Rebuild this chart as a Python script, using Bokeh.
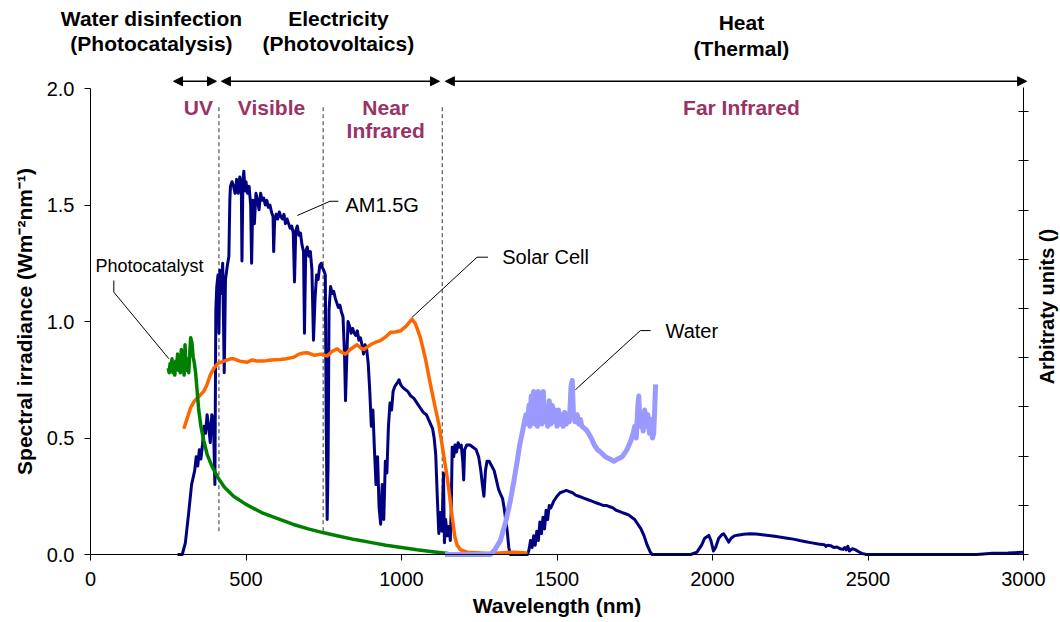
import math
from bokeh.plotting import figure
from bokeh.models import (Range1d, LinearAxis, FixedTicker, NumeralTickFormatter,
                          CustomJSTickFormatter, Label, Arrow, NormalHead)
from bokeh.embed import file_html
from bokeh.resources import INLINE

# ---------------- data ----------------
am15_wl = [280, 295, 305, 315, 325, 335, 340, 345, 350, 355, 360, 365, 370, 375, 380, 385, 390, 395,
           400, 403, 406, 410, 413, 416, 420, 425, 430, 434, 440, 445, 448, 450, 455, 460, 465, 470, 475,
           480, 485, 487, 490, 493, 497, 500, 505, 510, 515, 518, 522, 527, 532, 537, 542, 547, 552,
           557, 562, 567, 572, 577, 582, 587, 589, 592, 597, 602, 607, 612, 617, 622, 627, 632, 637,
           642, 647, 652, 656, 660, 665, 670, 675, 680, 685, 688, 692, 697, 702, 707, 712, 717, 722,
           727, 732, 737, 742, 746, 750, 755, 758, 761, 764, 767, 772, 777, 782, 787, 792, 797, 802,
           807, 812, 817, 820, 823, 828, 833, 838, 843, 848, 853, 858, 863, 868, 873, 878, 883, 888,
           893, 898, 903, 908, 913, 918, 923, 928, 933, 938, 943, 948, 953, 958, 963, 968, 973, 978,
           983, 988, 992, 997, 1002, 1010, 1020, 1030, 1040, 1050, 1060, 1070, 1080, 1090, 1100, 1105,
           1110, 1115, 1120, 1125, 1130, 1135, 1138, 1142, 1147, 1152, 1157, 1160, 1163, 1168, 1172,
           1177, 1182, 1187, 1192, 1197, 1200, 1203, 1210, 1220, 1230, 1240, 1248, 1255, 1260, 1265,
           1270, 1275, 1282, 1290, 1298, 1305, 1312, 1318, 1325, 1330, 1335, 1340, 1345, 1350, 1405,
           1410, 1415, 1420, 1425, 1430, 1435, 1440, 1445, 1450, 1455, 1460, 1465, 1470, 1475, 1480,
           1490, 1500, 1510, 1520, 1530, 1540, 1550, 1560, 1570, 1580, 1590, 1600, 1610, 1620, 1630,
           1640, 1650, 1660, 1670, 1680, 1690, 1700, 1710, 1720, 1730, 1740, 1750, 1760, 1770, 1780,
           1790, 1800, 1806, 1930, 1950, 1965, 1975, 1988, 1995, 2003, 2010, 2020, 2030, 2036, 2045,
           2052, 2060, 2070, 2080, 2100, 2120, 2140, 2160, 2180, 2200, 2220, 2240, 2260, 2280, 2300,
           2320, 2340, 2360, 2365, 2370, 2380, 2390, 2400, 2410, 2420, 2425, 2430, 2435, 2440, 2450,
           2460, 2470, 2480, 2495, 2850, 2900, 2950, 2970, 3000]
am15_val = [0.0, 0.0, 0.05, 0.17, 0.30, 0.36, 0.42, 0.38, 0.45, 0.41, 0.47, 0.55, 0.52, 0.60, 0.55, 0.48, 0.60, 0.58,
            0.30, 1.05, 1.15, 1.20, 0.95, 1.22, 1.12, 1.25, 0.78, 1.18, 1.24, 1.28, 1.52, 1.58, 1.60, 1.58, 1.55, 1.61, 1.55,
            1.62, 1.58, 1.26, 1.60, 1.645, 1.56, 1.60, 1.55, 1.58, 1.50, 1.25, 1.52, 1.42, 1.55, 1.52, 1.48, 1.55, 1.52,
            1.53, 1.50, 1.52, 1.49, 1.50, 1.47, 1.45, 1.30, 1.43, 1.46, 1.44, 1.47, 1.45, 1.44, 1.46, 1.42, 1.44, 1.42,
            1.40, 1.41, 1.38, 1.17, 1.39, 1.41, 1.37, 1.38, 1.33, 1.30, 0.95, 1.30, 1.32, 1.28, 1.30, 1.22, 0.92, 1.10,
            1.20, 1.18, 1.24, 1.25, 1.23, 1.22, 1.20, 0.55, 0.15, 0.40, 1.05, 1.15, 1.12, 1.13, 1.10, 1.08, 1.06, 1.07,
            1.04, 1.02, 0.85, 0.66, 0.80, 1.00, 0.98, 0.95, 0.97, 0.95, 0.94, 0.96, 0.92, 0.93, 0.90, 0.86, 0.90, 0.88,
            0.82, 0.70, 0.55, 0.62, 0.45, 0.30, 0.42, 0.20, 0.13, 0.30, 0.15, 0.40, 0.35, 0.55, 0.65, 0.62, 0.70, 0.72,
            0.73, 0.74, 0.75, 0.73, 0.72, 0.71, 0.70, 0.68, 0.67, 0.65, 0.63, 0.61, 0.60, 0.57, 0.54, 0.50,
            0.43, 0.25, 0.09, 0.18, 0.10, 0.35, 0.05, 0.15, 0.08, 0.12, 0.06, 0.20, 0.46, 0.42, 0.47,
            0.44, 0.48, 0.46, 0.47, 0.40, 0.32, 0.45, 0.47, 0.47, 0.46, 0.45, 0.42, 0.36, 0.30, 0.25,
            0.36, 0.40, 0.40, 0.38, 0.36, 0.32, 0.28, 0.26, 0.24, 0.20, 0.15, 0.10, 0.03, 0.0, 0.0,
            0.02, 0.06, 0.03, 0.08, 0.04, 0.10, 0.06, 0.14, 0.09, 0.16, 0.11, 0.19, 0.15, 0.21, 0.20,
            0.23, 0.25, 0.265, 0.27, 0.275, 0.27, 0.265, 0.255, 0.25, 0.245, 0.24, 0.235, 0.23, 0.225, 0.22,
            0.215, 0.21, 0.21, 0.205, 0.20, 0.19, 0.185, 0.18, 0.175, 0.17, 0.16, 0.15, 0.13, 0.11, 0.08,
            0.04, 0.01, 0.0, 0.0, 0.01, 0.04, 0.07, 0.082, 0.06, 0.015, 0.03, 0.07, 0.085, 0.089, 0.07,
            0.053, 0.07, 0.08, 0.083, 0.087, 0.089, 0.088, 0.085, 0.082, 0.078, 0.074, 0.07, 0.066, 0.06, 0.055,
            0.05, 0.045, 0.042, 0.035, 0.04, 0.038, 0.03, 0.032, 0.025, 0.022, 0.03, 0.02, 0.035, 0.015, 0.025,
            0.02, 0.012, 0.005, 0.0, 0.0, 0.005, 0.006, 0.008, 0.01]

solar_wl = [300, 310, 322, 335, 350, 364, 375, 385, 397, 410, 429, 450, 461, 480, 504, 520, 535, 557, 580,
            611, 630, 654, 670, 685, 697, 720, 740, 761, 775, 793, 805, 820, 835, 857, 870, 879, 900, 915,
            932, 950, 965, 980, 997, 1015, 1034, 1045, 1061, 1077, 1093, 1107, 1120, 1133, 1147, 1155, 1163,
            1171, 1179, 1190, 1211, 1240, 1270, 1300, 1330, 1360, 1390, 1405]
solar_val = [0.54, 0.58, 0.63, 0.66, 0.68, 0.70, 0.73, 0.77, 0.80, 0.82, 0.83, 0.84, 0.84, 0.83, 0.825, 0.835, 0.83,
             0.83, 0.835, 0.837, 0.84, 0.847, 0.86, 0.865, 0.866, 0.855, 0.86, 0.852, 0.87, 0.883, 0.87, 0.86, 0.88,
             0.90, 0.885, 0.88, 0.90, 0.91, 0.918, 0.935, 0.954, 0.955, 0.96, 0.98, 1.01, 0.99, 0.93, 0.84, 0.73,
             0.64, 0.56, 0.45, 0.33, 0.25, 0.16, 0.08, 0.04, 0.02, 0.01, 0.008, 0.005, 0.005, 0.008, 0.01, 0.008, 0.005]

photo_wl = [250, 253, 256, 259, 262, 265, 268, 271, 274, 277, 280, 283, 286, 289, 292, 295, 298, 301, 304, 307,
            310, 313, 316, 319, 322, 326, 330, 334, 338, 343, 348, 355, 364, 375, 390, 410, 430, 460, 500, 550,
            600, 650, 700, 750, 800, 850, 900, 950, 1000, 1050, 1100, 1150, 1160]
photo_val = [0.80, 0.78, 0.82, 0.79, 0.84, 0.78, 0.81, 0.77, 0.83, 0.80, 0.86, 0.79, 0.82, 0.78, 0.88, 0.80, 0.84,
             0.77, 0.90, 0.79, 0.84, 0.80, 0.78, 0.86, 0.93, 0.91, 0.85, 0.82, 0.78, 0.70, 0.62, 0.55, 0.49, 0.43,
             0.38, 0.33, 0.29, 0.25, 0.215, 0.18, 0.155, 0.13, 0.11, 0.093, 0.078, 0.064, 0.052, 0.04, 0.03, 0.02,
             0.012, 0.004, 0.0]

water_wl = [1140, 1200, 1250, 1286, 1300, 1318, 1335, 1350, 1362, 1372, 1380, 1388, 1395, 1400, 1405, 1410, 1413,
            1417, 1420, 1425, 1428, 1433, 1437, 1440, 1444, 1448, 1452, 1456, 1460, 1465, 1470, 1475, 1480, 1485,
            1490, 1495, 1500, 1505, 1510, 1515, 1520, 1525, 1530, 1535, 1540, 1545, 1549, 1553, 1558, 1565, 1570,
            1575, 1580, 1590, 1597, 1610, 1620, 1630, 1640, 1655, 1670, 1683, 1695, 1710, 1725, 1738, 1745, 1750,
            1755, 1760, 1763, 1767, 1772, 1777, 1782, 1787, 1792, 1797, 1802, 1807, 1811, 1814, 1817]
water_val = [0.0, 0.0, 0.0, 0.0, 0.02, 0.06, 0.14, 0.23, 0.32, 0.40, 0.47, 0.52, 0.57, 0.60, 0.56, 0.64, 0.55,
             0.68, 0.57, 0.70, 0.56, 0.62, 0.55, 0.70, 0.57, 0.66, 0.56, 0.70, 0.57, 0.62, 0.55, 0.66, 0.56, 0.64,
             0.57, 0.62, 0.55, 0.62, 0.56, 0.60, 0.55, 0.61, 0.56, 0.60, 0.57, 0.72, 0.747, 0.60, 0.57, 0.60, 0.56,
             0.58, 0.55, 0.54, 0.53, 0.50, 0.47, 0.45, 0.44, 0.42, 0.41, 0.40, 0.41, 0.42, 0.45, 0.49, 0.52, 0.55,
             0.50, 0.64, 0.68, 0.55, 0.60, 0.53, 0.62, 0.55, 0.60, 0.52, 0.58, 0.50, 0.52, 0.62, 0.73]

region_bounds = [413, 748, 1131]
x_ticks = [0, 500, 1000, 1500, 2000, 2500, 3000]
y_ticks = [0.0, 0.5, 1.0, 1.5, 2.0]
right_ticks = [0.0, 0.1, 0.2, 0.3, 0.4, 0.5, 0.6, 0.7, 0.8, 0.9]

# ---------------- figure ----------------
FONT = "Liberation Sans"
PURPLE = "#993366"
W, H = 1060, 622
PX_X = 933 / 3000          # pixels per nm
PX_Y = 233.0               # pixels per irradiance unit
PX_R = 492.0               # pixels per right-axis unit
X0, Y0 = 90, 554           # pixel position of the origin

p = figure(frame_width=W, frame_height=H,
           x_range=Range1d(-X0 / PX_X, (W - X0) / PX_X),
           y_range=Range1d(-(H - Y0) / PX_Y, Y0 / PX_Y),
           output_backend="svg", toolbar_location=None,
           min_border=0, min_border_left=0, min_border_right=0,
           min_border_top=0, min_border_bottom=0)
p.outline_line_color = None
p.xgrid.visible = False
p.ygrid.visible = False
p.background_fill_color = "white"
p.border_fill_color = "white"

p.extra_y_ranges = {"arb": Range1d(-(H - Y0) / PX_R, Y0 / PX_R)}

# left axis
ya = p.yaxis[0]
ya.fixed_location = 0
ya.bounds = (0, 2)
ya.ticker = FixedTicker(ticks=y_ticks)
ya.formatter = NumeralTickFormatter(format="0.0")
ya.major_tick_in = 0
ya.major_tick_out = 6
ya.minor_tick_line_color = None
ya.major_label_standoff = 10
ya.major_label_text_font = FONT
ya.major_label_text_font_size = "20px"
ya.major_label_text_color = "black"
ya.axis_label = "Spectral irradiance (Wm⁻²nm⁻¹)"
ya.axis_label_text_font = FONT
ya.axis_label_text_font_style = "bold"
ya.axis_label_text_font_size = "21px"
ya.axis_label_text_color = "black"
ya.axis_label_standoff = 8
ya.axis_line_color = "black"
ya.major_tick_line_color = "black"

# bottom axis
xa = p.xaxis[0]
xa.fixed_location = 0
xa.bounds = (0, 3000)
xa.ticker = FixedTicker(ticks=x_ticks)
xa.formatter = NumeralTickFormatter(format="0")
xa.major_tick_in = 0
xa.major_tick_out = 6
xa.minor_tick_line_color = None
xa.major_label_standoff = 11
xa.major_label_text_font = FONT
xa.major_label_text_font_size = "20px"
xa.major_label_text_color = "black"
xa.axis_label = "Wavelength (nm)"
xa.axis_label_text_font = FONT
xa.axis_label_text_font_style = "bold"
xa.axis_label_text_font_size = "21px"
xa.axis_label_text_color = "black"
xa.axis_label_standoff = 5
xa.axis_line_color = "black"
xa.major_tick_line_color = "black"

# right axis (ticks only, no numbers)
ra = LinearAxis(y_range_name="arb", fixed_location=3000, bounds=(0, 0.95),
                ticker=FixedTicker(ticks=right_ticks),
                formatter=CustomJSTickFormatter(code="return ''"),
                major_tick_in=5, major_tick_out=5, minor_tick_line_color=None,
                major_label_standoff=0,
                axis_line_color="black", major_tick_line_color="black")
p.add_layout(ra, "right")

# ---------------- region separators ----------------
p.segment(x0=region_bounds, y0=[0.10] * 3, x1=region_bounds, y1=[1.93] * 3,
          line_color="#333333", line_width=1, line_dash="4 3")

# ---------------- series ----------------
p.line(am15_wl, am15_val, line_color="#000080", line_width=3, line_join="round")
p.line(solar_wl, solar_val, line_color="#FF6600", line_width=3.5, line_join="round")
p.line(photo_wl, photo_val, line_color="#008000", line_width=3.5, line_join="round")
p.line(water_wl, water_val, line_color="#9999FF", line_width=5, line_join="round")

# ---------------- leader lines ----------------
for xs, ys in [([665, 770, 797], [1.455, 1.516, 1.516]),
               ([1034, 1243, 1278], [1.018, 1.276, 1.276]),
               ([1559, 1768, 1801], [0.707, 0.961, 0.961]),
               ([252, 75, 75], [0.840, 1.126, 1.176])]:
    p.line(xs, ys, line_color="black", line_width=1)


def lab(x, y, text, color="black", bold=False, align="left", size="20px", angle=0.0):
    p.add_layout(Label(x=x, y=y, text=text, text_color=color,
                       text_font=FONT, text_font_size=size,
                       text_font_style="bold" if bold else "normal",
                       text_align=align, text_baseline="middle", angle=angle))


# series labels
lab(820, 1.502, "AM1.5G")
lab(1324, 1.276, "Solar Cell")
lab(1849, 0.961, "Water")
lab(16, 1.240, "Photocatalyst", size="18px")

# headers
lab(196, 2.300, "Water disinfection", bold=True, align="center", size="21px")
lab(196, 2.193, "(Photocatalysis)", bold=True, align="center", size="21px")
lab(797, 2.300, "Electricity", bold=True, align="center", size="21px")
lab(797, 2.193, "(Photovoltaics)", bold=True, align="center", size="21px")
lab(2093, 2.283, "Heat", bold=True, align="center", size="21px")
lab(2093, 2.172, "(Thermal)", bold=True, align="center", size="21px")

# region names
lab(347, 1.918, "UV", color=PURPLE, bold=True, align="center", size="21px")
lab(582, 1.918, "Visible", color=PURPLE, bold=True, align="center", size="21px")
lab(949, 1.918, "Near", color=PURPLE, bold=True, align="center", size="21px")
lab(949, 1.820, "Infrared", color=PURPLE, bold=True, align="center", size="21px")
lab(2093, 1.918, "Far Infrared", color=PURPLE, bold=True, align="center", size="21px")

# right axis title
lab(3074, 1.064, "Arbitraty units ()", bold=True, align="center", angle=math.pi / 2)

# ---------------- double arrows ----------------
for x0, x1 in [(267, 405), (421, 1122), (1141, 3010)]:
    p.add_layout(Arrow(x_start=x0, y_start=2.031, x_end=x1, y_end=2.031,
                       line_color="black", line_width=1.5,
                       start=NormalHead(size=9, fill_color="black", line_color="black"),
                       end=NormalHead(size=9, fill_color="black", line_color="black")))

open("out.html", "w").write(file_html(p, INLINE))
